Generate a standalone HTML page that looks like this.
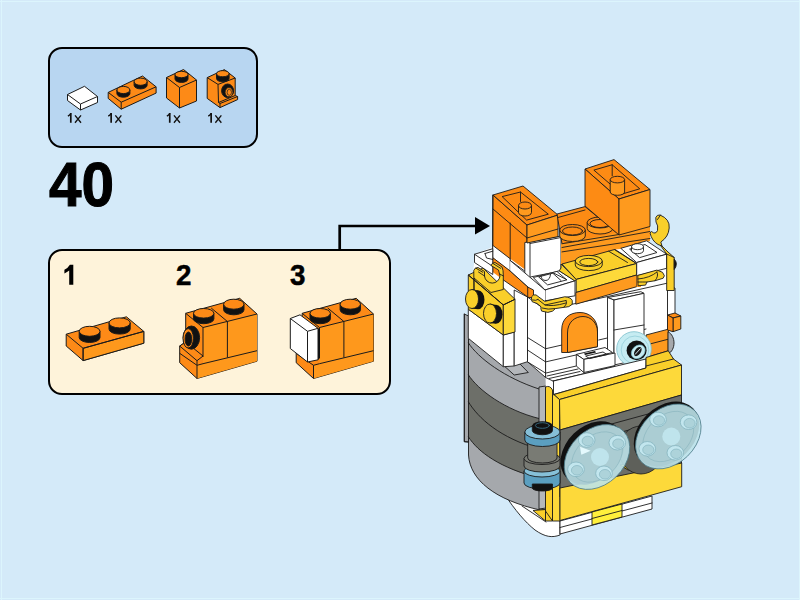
<!DOCTYPE html>
<html><head><meta charset="utf-8">
<style>
html,body{margin:0;padding:0;}
body{width:800px;height:600px;position:relative;overflow:hidden;background:#d4eaf9;font-family:"Liberation Sans",sans-serif;}
.t{position:absolute;color:#000;white-space:nowrap;line-height:1;}
#callout{position:absolute;left:47.5px;top:47px;width:210.5px;height:101px;box-sizing:border-box;border:2px solid #000;border-radius:14px;background:#b8d6f1;}
#steps{position:absolute;left:47.5px;top:249px;width:343px;height:146px;box-sizing:border-box;border:2px solid #000;border-radius:14px;background:#fef3da;}
.num{font-weight:bold;font-size:63.5px;transform:scaleX(0.92);transform-origin:0 0;-webkit-text-stroke:1.1px #000;}
.sn{font-weight:bold;font-size:29.5px;transform:scaleX(0.94);transform-origin:0 0;-webkit-text-stroke:0.5px #000;}
.qty{font-size:14px;}
svg{position:absolute;left:0;top:0;}
</style></head><body>
<div style="position:absolute;left:0;top:1px;width:800px;height:1px;background:#dcf5fd"></div>
<div style="position:absolute;left:1px;top:0;width:1px;height:600px;background:#dcf5fd"></div>
<div style="position:absolute;left:0;top:598px;width:800px;height:1px;background:#dcf5fd"></div>
<div style="position:absolute;left:799px;top:0;width:1px;height:600px;background:#dcf5fd"></div>
<div id="callout"></div>
<div id="steps"></div>
<div class="t num" style="left:49px;top:153px">40</div>
<div class="t sn" style="left:176px;top:260px">2</div>
<div class="t sn" style="left:290px;top:260px">3</div>
<svg width="800" height="600" viewBox="0 0 800 600">
<g stroke="#1b1b1b" stroke-width="1" stroke-linejoin="round">
<!-- callout: white tile -->
<path d="M67.5 94.5 L84.5 86.3 L97.5 96.5 L97.5 102.5 L80.5 110 L67.5 100.5Z" fill="#fff"/>
<path d="M67.5 94.5 L80.5 104 L97.5 96.5 M80.5 104 V110" fill="none"/>
<!-- callout: orange 1x2 plate -->
<path d="M108.2 92.4 L142.5 76 L156.1 86.8 L156.1 93.1 L121.2 109.2 L108.2 98.4Z" fill="#fd8a17"/>
<path d="M108.2 92.4 L121.2 102.2 L156.1 86.8 M121.2 102.2 V109.2" fill="none"/>
<path d="M116.9 90 V93.6 A6.5 3.6 0 0 0 129.9 93.6 V90Z" fill="#111"/>
<ellipse cx="123.4" cy="90" rx="6.5" ry="3.6" fill="#fd8a17"/>
<path d="M134.1 81.7 V85.3 A6.5 3.6 0 0 0 147.1 85.3 V81.7Z" fill="#111"/>
<ellipse cx="140.6" cy="81.7" rx="6.5" ry="3.6" fill="#fd8a17"/>
<!-- callout: orange 1x1 brick -->
<path d="M166.5 77.5 L183.5 69.5 L196.5 80 L196.5 101 L179.5 108 L166.5 98Z" fill="#fd8a17"/>
<path d="M166.5 77.5 L179.5 87.5 L196.5 80 M179.5 87.5 V108" fill="none"/>
<path d="M175 74.5 V79 A6.5 3.4 0 0 0 188 79 V74.5Z" fill="#111"/>
<ellipse cx="181.5" cy="74.5" rx="6.5" ry="3.2" fill="#fd8a17"/>
<!-- callout: headlight brick -->
<path d="M207.2 77.6 L224.4 69.6 L235.2 78 L235.2 95.5 L237.6 96.5 L237.6 99.6 L220 107.6 L207.2 98.4Z" fill="#fd8a17"/>
<path d="M207.2 77.6 L218 84.4 L235.2 78 M218 84.4 L218.5 102.5 L220 103.5 V107.6 M218.5 102.5 L235.2 95.5 M220 103.5 L237.6 96.5" fill="none"/>
<path d="M216.5 73.7 V78.5 A6.3 3.3 0 0 0 229.1 78.5 V73.7Z" fill="#111"/>
<ellipse cx="222.8" cy="73.7" rx="6.3" ry="3.1" fill="#fd8a17"/>
<ellipse cx="227.6" cy="90.8" rx="6" ry="6.8" fill="#111"/>
<ellipse cx="229" cy="92.2" rx="3.9" ry="4.6" fill="#fd8a17" stroke-width="0.8"/>
<ellipse cx="229.3" cy="92.3" rx="2.2" ry="3" fill="#fd8a17" stroke-width="0.7"/>
</g>
<g transform="translate(0 0)" stroke="#111" fill="none"><path d="M70.8 113 V122.75" stroke-width="1.7"/><path d="M67.9 116.2 Q69.8 115.2 70.9 113.3" stroke-width="1.4"/><path d="M75 115.4 L81 122.75 M81 115.4 L75 122.75" stroke-width="1.35"/></g>
<g transform="translate(40.35 0)" stroke="#111" fill="none"><path d="M70.8 113 V122.75" stroke-width="1.7"/><path d="M67.9 116.2 Q69.8 115.2 70.9 113.3" stroke-width="1.4"/><path d="M75 115.4 L81 122.75 M81 115.4 L75 122.75" stroke-width="1.35"/></g>
<g transform="translate(98.95 0)" stroke="#111" fill="none"><path d="M70.8 113 V122.75" stroke-width="1.7"/><path d="M67.9 116.2 Q69.8 115.2 70.9 113.3" stroke-width="1.4"/><path d="M75 115.4 L81 122.75 M81 115.4 L75 122.75" stroke-width="1.35"/></g>
<g transform="translate(140.35 0)" stroke="#111" fill="none"><path d="M70.8 113 V122.75" stroke-width="1.7"/><path d="M67.9 116.2 Q69.8 115.2 70.9 113.3" stroke-width="1.4"/><path d="M75 115.4 L81 122.75 M81 115.4 L75 122.75" stroke-width="1.35"/></g>
</svg>

<svg width="800" height="600" viewBox="0 0 800 600">
<path d="M69.2 264.75 H73.3 V284.75 H69.2 V270.6 Q67.2 272.3 64.4 273.4 V269.8 Q68 268 69.9 264.75Z" fill="#000"/>
<g stroke="#1b1b1b" stroke-width="1" stroke-linejoin="round">
<!-- step1 plate -->
<path d="M66.2 334.2 L126.4 316.8 L143.8 331.4 L143.8 343.2 L83.1 360.6 L66.2 346Z" fill="#fd8a17"/>
<path d="M83.1 348.3 L143.8 331.4 L143.8 343.2 L83.1 360.6Z" fill="#fe981c"/>
<path d="M66.2 334.2 L83.1 348.3 L143.8 331.4 M83.1 348.3 V360.6" fill="none"/>
<path d="M79.2 331.3 V337.5 A10.4 5 0 0 0 100 337.5 V331.3Z" fill="#111"/>
<ellipse cx="89.6" cy="331.3" rx="10.4" ry="5" fill="#fd8a17"/>
<path d="M109 322.9 V329.1 A10.6 5 0 0 0 130.2 329.1 V322.9Z" fill="#111"/>
<ellipse cx="119.6" cy="322.9" rx="10.6" ry="5" fill="#fd8a17"/>
</g>
<g id="s2" stroke="#1b1b1b" stroke-width="1" stroke-linejoin="round">
<!-- plate -->
<path d="M179.7 346 L185.7 342 L185.7 313.3 L239.7 298.3 L257 314 L257 361.2 L197 378.5 L179.7 362.7Z" fill="#fd8a17"/>
<!-- plate lines -->
<path d="M203 327.5 L257 314 L257 361.2 L197 378.5 L197 365.3 L203 363.7Z" fill="#fe981c" stroke="none"/>
<path d="M179.7 353.3 L197 365.3 L203 363.7 L257 350.7 M197 365.3 V378.5" fill="none"/>
<!-- ledge -->
<path d="M179.7 346 L185.7 342 L203 356 L197 360.7Z" fill="#fd8a17"/>
<path d="M197 360.7 V365.3" fill="none"/>
<!-- brick edges -->
<path d="M185.7 313.3 L203 327.5 L257 314 M203 327.5 V357 M227.4 321.5 V357.5 M211.2 308 L227.4 321.5" fill="none"/>
<!-- headlight -->
<ellipse cx="191.4" cy="337.6" rx="8.2" ry="11.6" fill="#111"/>
<ellipse cx="188.2" cy="338.3" rx="5.2" ry="9.7" fill="#fd8a17"/>
<ellipse cx="188.4" cy="339" rx="3.3" ry="7" fill="#111"/>
<!-- studs -->
<path d="M193.5 313.3 V318.9 A10.2 4.8 0 0 0 213.9 318.9 V313.3Z" fill="#111"/>
<ellipse cx="203.7" cy="313.3" rx="10.2" ry="4.8" fill="#fd8a17"/>
<path d="M223.6 304.2 V309.8 A10.2 5 0 0 0 244 309.8 V304.2Z" fill="#111"/>
<ellipse cx="233.8" cy="304.2" rx="10.2" ry="5" fill="#fd8a17"/>
</g>
<g transform="translate(116.5 0)" stroke="#1b1b1b" stroke-width="1" stroke-linejoin="round">
<path d="M179.7 346 L185.7 342 L185.7 313.3 L239.7 298.3 L257 314 L257 361.2 L197 378.5 L179.7 362.7Z" fill="#fd8a17"/>
<path d="M203 327.5 L257 314 L257 361.2 L197 378.5 L197 365.3 L203 363.7Z" fill="#fe981c" stroke="none"/>
<path d="M179.7 353.3 L197 365.3 L203 363.7 L257 350.7 M197 365.3 V378.5" fill="none"/>
<path d="M185.7 313.3 L203 327.5 L257 314 M203 327.5 V357 M227.4 321.5 V357.5 M211.2 308 L227.4 321.5" fill="none"/>
<path d="M193.5 313.3 V318.9 A10.2 4.8 0 0 0 213.9 318.9 V313.3Z" fill="#111"/>
<ellipse cx="203.7" cy="313.3" rx="10.2" ry="4.8" fill="#fd8a17"/>
<path d="M223.6 304.2 V309.8 A10.2 5 0 0 0 244 309.8 V304.2Z" fill="#111"/>
<ellipse cx="233.8" cy="304.2" rx="10.2" ry="5" fill="#fd8a17"/>
</g>
<g stroke="#1b1b1b" stroke-width="1" stroke-linejoin="round">
<!-- white tile step3 -->
<path d="M318 328.3 L320 329 L320 358 L318 360Z" fill="#111" stroke="none"/>
<path d="M290.3 318.5 L300 314.8 L318 328.3 L318 359.8 L307.5 362 L290.3 348.5Z" fill="#fff"/>
<path d="M290.3 318.5 L307.5 331.3 L318 328.3 M307.5 331.3 V362" fill="none"/>
</g>
</svg>

<svg width="800" height="600" viewBox="0 0 800 600">
<defs><style>
.o{fill:#fd8b14}.of{fill:#fe9a1e}.w{fill:#fff}.wg{fill:#eeeeee}.y{fill:#f9cf2a}.yf{fill:#fdd93a}.yl{fill:#fff03c}.g1{fill:#a5a8ac}.g1b{fill:#b4b7bb}.g2{fill:#6d6f69}.g2b{fill:#797b74}.tb{fill:#c4e6ee}.tbc{fill:#86c0d8}.tbc2{fill:#5b9fc0}.tbd{fill:#6aaac6}.bk{fill:#111}
.e{fill:none;stroke:#1b1b1b;stroke-width:0.9;stroke-linejoin:round;stroke-linecap:round}
.s{stroke:#1b1b1b;stroke-width:0.9;stroke-linejoin:round}
</style></defs>
<path class="g1 s" d="M464.3 314 L468.5 316 L468.5 442 L464.3 441.7Z" />
<path class="w s" d="M505 495 C515 510 525 522 535 530 C545 537 552 538 560 535 L560 521 L546 510 L540 509Z" />
<path class="e" d="M522 506 L546 522 M540 509 L560 521" />
<path class="g1" d="M468.5 330 L546 370 L546 508 L540 510 C495 500 470 480 468.5 455Z" />
<path class="g2" d="M468.5 375 C478 390 505 410 539 418.5 L546 418 L546 479 L539 478 C500 468 478 452 468.5 437Z" />
<path class="e" d="M468.5 343 C478 358 505 378 539 389" />
<path class="e" d="M468.5 375 C478 390 505 410 539 418.5" />
<path class="e" d="M468.5 402 C478 418 500 438 539 449" />
<path class="e" d="M468.5 437 C478 452 500 468 539 478" />
<path class="e" d="M468.5 338 V455 C470 480 495 500 540 510" />
<path class="g1b s" d="M539 387 L546 386 L546 508 L539 509Z" />
<path class="e" d="M464.3 314 V441.7 L468.5 442" />
<path class="y s" d="M533 510.5 L545.5 509.5 L545.5 521 Z" />
<path class="y s" d="M545.5 509.5 L552.5 515 L552.5 521 L545.5 521Z" />
<path class="g1b s" d="M505 366.7 L520 364 L528.3 372.5 L514.2 375Z" />
<path class="w" d="M468.3 309 L475.3 254 L493 247 L527 241 L561 250 L640 240 L668 254 L675 290 L675 318 L668 330 L668 365 L553 394 L545.8 388 L545.6 377.5 L527.5 361.7 L514.2 366 L503.3 366.7 L468.3 338.3Z" />
<path class="w s" d="M468.3 309.2 L503.3 335 L503.3 366.7 L468.3 338.3Z" />
<path class="w s" d="M503.3 335 L514.2 332 L514.2 366 L503.3 366.7Z" />
<path class="w s" d="M514.2 290 L527.5 297 L527.5 361.7 L514.2 366Z" />
<path class="w s" d="M527.5 297 L545.6 310 L545.6 377.5 L527.5 361.7Z" />
<path class="e" d="M527.5 337.5 L545.6 348.75 M527.5 350 L545.6 361.9 M527.5 361.9 L545.6 373.1" />
<path class="w s" d="M545.6 310 L610 296 L668 283 L668 330 L646 357.5 L646 367 L553 381 L545.6 377.5Z" />
<path class="e" d="M545.6 348.75 L562 345 M545.6 361.9 L576 355 M545.6 373.1 L576.3 366 M598.7 340 L646 329" />
<path class="e" d="M553 381 L646 359" />
<path class="e" d="M547 376 L578 369 M549 378.5 L580 371.5" />
<path class="o s" d="M561.7 352.5 L561.7 330 C561.7 318 570 312.5 580 312.5 C590 312.5 597.5 320 597.5 330 L597.5 346.7 L567.5 352.5Z" />
<path class="of s" d="M567.5 352.5 L567.5 333 C567.5 322 575 316.5 583 316.5 C591 316.5 597.5 323 597.5 332 L597.5 346.7Z" />
<path class="w s" d="M607.5 297.5 L640.8 291.7 L644 293.3 L614 300Z" />
<path class="w s" d="M607.5 297.5 L614 300 L614 365 L607.5 362Z" />
<path class="w s" d="M614 300 L644 293.3 L644 366 L614 372Z" />
<path class="e" d="M614 330 L644 325" />
<path class="w s" d="M614 365 L646 358 L646 370 L614 376.7Z" />
<path class="w s" d="M576.3 354.4 L605 347.5 L612.5 352.5 L583.8 359.4Z" />
<path class="w s" d="M583.8 359.4 L615 353 L615 365.6 L583.8 372.5Z" />
<path class="w s" d="M576.3 354.4 L583.8 359.4 L583.8 372.5 L576.3 366Z" />
<path class="bk" d="M584 353.5 L595 351 L596 352.5 L585 355Z" />
<path class="e" d="M586 356 L603 352 L607 354.5 L590 358.5Z" />
<path class="of s" d="M646 335 L668.3 329.2 L668.3 350.8 L646 357.5Z" />
<path class="e" d="M646 345 L668.3 339.2" />
<path class="w s" d="M667.5 286.7 L675 288 L675 318 L667.5 316Z" />
<path class="o s" d="M667.5 315 L675 313 L680.8 316 L673 318Z" />
<path class="of s" d="M673 318 L680.8 316 L680.8 329 L673 331.7Z" />
<path class="o s" d="M667.5 315 L673 318 L673 331.7 L667.5 330Z" />
<path class="g1 s" d="M668 331.7 C676 336 676 350 668 354Z" />
<circle cx="634" cy="349" r="17.3" fill="#c6ecf2" stroke="#7dbfcc" stroke-width="0.8"/>
<circle cx="635" cy="349.8" r="13.8" fill="none" stroke="#8ccad6" stroke-width="0.7"/>
<ellipse cx="636.6" cy="350.4" rx="10" ry="9.8" fill="#111"/>
<ellipse cx="638.2" cy="351.8" rx="7.6" ry="6" transform="rotate(-45 638.2 351.8)" fill="#c6ecf2" stroke="#7dbfcc" stroke-width="0.7"/>
<ellipse cx="637.8" cy="351.6" rx="5.2" ry="3" transform="rotate(-55 637.8 351.6)" fill="#1a1a1a"/>
<path d="M635 354.5 L640.5 348.5" stroke="#e8fbff" stroke-width="0.9"/>
<path class="o s" d="M493 195 L527 225 L527 287.3 L510.2 271 L492.7 257.6Z" />
<path class="w" d="M492.7 245.3 L510.2 258.75 L526 270.2 L526 284 L510.2 271 L492.7 257.6Z" />
<path class="o" d="M492.7 257.6 L510.2 271 L528.3 287.3 L528.3 297.3 L502 279 L492.7 272Z" />
<path class="e" d="M492.7 195 V272 M510.2 223 V271 M492.7 245.3 L510.2 258.75 M510.2 260.5 L526 272 M492.7 257.6 L510.2 271 L528.3 287.3 M502 279 L528.3 297.3 M493 209 L527 238" />
<path class="w s" d="M474.5 254.25 L492.75 248.7 L492.75 274.5 L474.5 262.5Z" />
<path class="e" d="M474.5 254.25 L492.75 266.4 M485 253.5 L492.75 251.2 M485 253.5 L486.5 258 L492.75 259.5" />
<path class="y s" d="M468.3 275 L483 268 L515 299.3 L503.3 305Z" />
<path class="y s" d="M468.3 275 L503.3 305 L503.3 335 L468.3 309.2Z" />
<path class="yf s" d="M503.3 305 L515 299.3 L515 332 L503.3 335Z" />
<path class="bk s" d="M472 289.5 L478 291 L478 308.5 L472 308.5Z"/>
<ellipse class="bk" cx="478" cy="299.8" rx="6.5" ry="9.5"/>
<ellipse class="y s" cx="472" cy="299" rx="6.5" ry="9.5"/>
<path class="bk s" d="M490 304.0 L496 305.5 L496 323.0 L490 323.0Z"/>
<ellipse class="bk" cx="496" cy="314.3" rx="6.5" ry="9.5"/>
<ellipse class="y s" cx="490" cy="313.5" rx="6.5" ry="9.5"/>
<path class="y s" d="M474 290 L473.75 270.5 Q474.5 267.5 478 267.5 L484.5 271.5 L484.5 276 A7.8 8 0 0 0 500 276 L498.5 270 L491 265.5 Q492 262.5 495 262.5 L502 267 Q503.5 270 503.3 276 L503.3 289.5 L491 292.5 L474 278Z" />
<path class="e" d="M468.3 275 L503.3 305 L515 299.3" />
<path class="e" d="M476 268.2 L482.8 272.3 M493 263.5 L500.6 268.3 M484.5 276 L478.5 272 M499.8 274 L503.3 276" />
<path class="w s" d="M524.8 242.5 L558 236.6 L561 236 L561 271 L531.2 276.8 L524.8 280Z" />
<path class="e" d="M530 243.5 L530 276.8 M530 243.5 L561 237.5" />
<path class="o s" d="M493 195 L523 186 L558 215 L527 225Z" />
<path class="e" d="M502.5 196.5 L520.5 192 L548.3 214.2 L527 220Z" />
<path class="e" d="M520.5 192 V201.5" />
<path class="of s" d="M518.5 205.5 V212.5 A6.5 3.5 0 0 0 531.5 212.5 V205.5Z"/>
<ellipse class="o s" cx="525" cy="205.5" rx="6.5" ry="3.5"/>
<path class="of s" d="M527 225 L558 215 L558 236.6 L527 243Z" />
<path class="e" d="M527 238 L558 229" />
<path class="o s" d="M557 214 L585 206.6 L619 234.5 L562 243.75Z" />
<path class="e" d="M558 217.5 L585 210" />
<path class="of" d="M561 243.75 L650 226 L650 241 L622.5 248.75 L615 249.4 L566.5 265 L561 264Z" />
<path class="e" d="M562 243.75 L619 234.5 M562 247.5 L650 231.5 M562 251.9 L650 238.5" />
<path class="of s" d="M559.7 230 V236 A12.8 5.5 0 0 0 585.3 236 V230Z"/>
<ellipse class="o s" cx="572.5" cy="230" rx="12.8" ry="5.5"/>
<ellipse class="e" cx="572.5" cy="231" rx="10" ry="4"/>
<path class="of s" d="M587.2 222.5 V228.5 A12.8 5.5 0 0 0 612.8 228.5 V222.5Z"/>
<ellipse class="o s" cx="600" cy="222.5" rx="12.8" ry="5.5"/>
<ellipse class="e" cx="600" cy="223.5" rx="10" ry="4"/>
<path class="o s" d="M585 169 L614 159.6 L650 189.5 L619 199Z" />
<path class="o s" d="M585 169 L619 199 L619 235 L585 206Z" />
<path class="of s" d="M619 199 L650 189.5 L650 226.5 L619 235Z" />
<path class="e" d="M594.25 170 L612.2 164.75 L639.75 188.8 L622.25 194Z M612.2 164.75 V175.7" />
<path class="of s" d="M610.1999999999999 179.6 V192.0 A7.2 3.3 0 0 0 624.6 192.0 V179.6Z"/>
<ellipse class="o s" cx="617.4" cy="179.6" rx="7.2" ry="3.3"/>
<path class="w s" d="M533.3 277.5 L559.2 270.8 L575 280.8 L545 290Z" />
<path class="w s" d="M545 290 L575 280.8 L575 295.8 L545 300.8Z" />
<path class="e" d="M539 276.8 L553.5 273 L567 279.8 L548 284.8Z M541 276.3 Q541.5 280.5 546 280.5 Q550 280 550.5 274.3 M552.8 273.2 L561 280.5 M557.5 272 L566 279.2" />
<path class="w" d="M510.2 260.5 L545 290 L545 300.8 L528.3 287.3 L510.2 271Z" />
<path class="e" d="M510.2 260.5 L545 290 M510.2 271 L528.3 287.3" />
<path class="y s" d="M561 264 L576.2 279.4 L575 281 L559.2 270.8 L561 268Z" />
<path class="y s" d="M562 264 L615 249.4 L636.7 263.5 L576.2 279.4Z" />
<path class="yf s" d="M576.2 279.4 L636.7 263.5 L636.7 275 L576.2 292.5Z" />
<path class="of s" d="M575.8 292.5 L636.7 275 L636.7 286.7 L575.8 304.2Z" />
<path class="y s" d="M575.25 261 V265 A13.5 5.6 0 0 0 602.25 265 V261Z"/>
<ellipse class="y s" cx="588.75" cy="261" rx="13.5" ry="5.6"/>
<ellipse class="e" cx="588.75" cy="262" rx="9" ry="3.6"/>
<path class="e" d="M608.75 251.25 L627.5 262.5 M615 250 L635 262.5" />
<path class="o s" d="M527.7 287 L533.5 290 L533.5 297.8 L527.7 297.3Z" />
<path class="y s" d="M531.6 296.75 Q532.9 294.25 536 294.9 L544.75 301.4 L564.75 296.75 Q571 297.4 572.25 300.5 L572.25 304.25 Q569.75 307.4 563.5 307.4 L555.4 308.6 Q553.5 311.75 547.9 312.4 L541.6 311.1 Q540.4 308.6 541 306.75 L537.25 303.6 L532.25 301.75 Q531 299.9 531.6 296.75Z" />
<path class="e" d="M532.5 300 Q536 301 538 299.5 M538 299.5 L545 305 L566 300.5 M545 305 Q552 307 566 303 M542 308 Q548 310 555 308.6 M566 300.5 Q568 304 563.5 307.4" />
<path class="w s" d="M620.8 248.3 L646.7 240.8 L666.7 254.2 L636.7 262.5Z" />
<path class="w s" d="M636.7 262.5 L666.7 254.2 L666.7 268.3 L636.7 275.8Z" />
<path class="e" d="M630 249 L645 244.5 L657 252.5 L640 257.5Z" />
<path class="w s" d="M631.5 246.7 V250.7 A6 3 0 0 0 643.5 250.7 V246.7Z"/>
<ellipse class="w s" cx="637.5" cy="246.7" rx="6" ry="3"/>
<path class="of" d="M636.7 275.8 L641 274.7 L641 287 L636.7 287Z" />
<path class="y s" d="M637.8 275.4 L656.9 270.1 L662.5 272.3 L664.4 275.75 L663.1 278.25 L655 280.75 L646.9 282 L645.6 285.1 L638.1 285.75Z" />
<path class="e" d="M638 279 Q650 278 657 272 M657 272 Q659 276 655 280.75 M638 282 Q643 282 646.9 282" />
<path class="y s" d="M658 242 L668 252 L674.2 257.5 L674.2 290.5 L666.7 290.5 L666.7 254Z" />
<path class="bk s" d="M674.2 259 Q678.5 264 674.2 269.5Z" />
<path class="y s" d="M655.8 217.5 Q657 214.5 660 215 Q670 219 669.2 228 Q668.5 237 660.8 242 L662 246 L658 244.5 Q652 241 650 233 L651.5 231.5 Q655.5 235 657.5 230.5 Q658.5 225.5 656 222Z" />
<path class="e" d="M660.5 215 L657.5 219.5 M666.7 254 L674.2 257.5" />
<path class="w s" d="M553.5 381 L646 359 L646 368 L553.5 394.5Z" />
<path class="y s" d="M545.5 387 Q550 385 552.5 390 L552.5 521 L545.5 511Z" />
<path class="yf s" d="M552.5 395 L554 394.5 L559.5 399.5 L560 521 L552.5 521Z" />
<path class="y s" d="M554 394.5 L646 368 L646 357.5 L668.3 350.8 L673.5 359 L681.5 365 L559.5 399.5Z" />
<path class="e" d="M646 366 L673.5 359" />
<path class="yf s" d="M559.5 399.5 L681.5 365 L681.5 395 L560 430Z" />
<path class="g2 s" d="M560 430 L681.5 395 L681.5 463 L560 497Z" />
<path class="e" d="M575 434 L681 405 M570 446 L681 416 M565 458 L681 426 M600 422 V435" />
<path class="yf s" d="M560 488 L681.7 463 L681.7 486.7 L560 520.5Z" />
<path class="y s" d="M620 465 L640 461 L648 466 L628 470Z" />
<path class="w s" d="M560 521 L652 496 L652 509 L560 534Z" />
<path class="e" d="M560 527.5 L652 503" />
<path class="yl s" d="M592 512 L622 504 L622 517 L592 525Z" />
<path class="e" d="M592 518.5 L622 510.5" />
<ellipse cx="641" cy="450" rx="22" ry="24" fill="#5e605a" stroke="#1b1b1b" stroke-width="0.8"/>
<ellipse class="bk" cx="592.5" cy="453" rx="36" ry="27" transform="rotate(-44 592.5 453)"/>
<ellipse class="bk" cx="666.5" cy="434" rx="37" ry="27.5" transform="rotate(-44 666.5 434)"/>
<ellipse cx="597" cy="457" rx="37" ry="27.5" transform="rotate(-44 597 457)" fill="#bde2e9" fill-opacity="0.9" stroke="#4d7d8a" stroke-width="0.8"/>
<ellipse cx="597" cy="457" rx="29" ry="21" transform="rotate(-44 597 457)" fill="none" stroke="#88b3bd" stroke-width="0.6"/>
<circle cx="600" cy="457" r="9" fill="#bfe4ec"/>
<ellipse cx="586.7" cy="440" rx="8.3" ry="7.3" fill="#c2e6ee" stroke="#7fb0bc" stroke-width="0.7"/>
<ellipse cx="587.7" cy="441" rx="5.6" ry="4.8" fill="#add3da" stroke="#7fb0bc" stroke-width="0.6"/>
<ellipse cx="617.3" cy="442.7" rx="8.3" ry="7.3" fill="#c2e6ee" stroke="#7fb0bc" stroke-width="0.7"/>
<ellipse cx="618.3" cy="443.7" rx="5.6" ry="4.8" fill="#add3da" stroke="#7fb0bc" stroke-width="0.6"/>
<ellipse cx="576" cy="469.3" rx="8.3" ry="7.3" fill="#c2e6ee" stroke="#7fb0bc" stroke-width="0.7"/>
<ellipse cx="577" cy="470.3" rx="5.6" ry="4.8" fill="#add3da" stroke="#7fb0bc" stroke-width="0.6"/>
<ellipse cx="604" cy="473.3" rx="8.3" ry="7.3" fill="#c2e6ee" stroke="#7fb0bc" stroke-width="0.7"/>
<ellipse cx="605" cy="474.3" rx="5.6" ry="4.8" fill="#add3da" stroke="#7fb0bc" stroke-width="0.6"/>
<ellipse cx="668.3" cy="436.5" rx="37" ry="27.5" transform="rotate(-44 668.3 436.5)" fill="#bde2e9" fill-opacity="0.9" stroke="#4d7d8a" stroke-width="0.8"/>
<ellipse cx="668.3" cy="436.5" rx="29" ry="21" transform="rotate(-44 668.3 436.5)" fill="none" stroke="#88b3bd" stroke-width="0.6"/>
<circle cx="671.3" cy="436.5" r="9" fill="#bfe4ec"/>
<ellipse cx="658.0" cy="419.5" rx="8.3" ry="7.3" fill="#c2e6ee" stroke="#7fb0bc" stroke-width="0.7"/>
<ellipse cx="659.0" cy="420.5" rx="5.6" ry="4.8" fill="#add3da" stroke="#7fb0bc" stroke-width="0.6"/>
<ellipse cx="688.5999999999999" cy="422.2" rx="8.3" ry="7.3" fill="#c2e6ee" stroke="#7fb0bc" stroke-width="0.7"/>
<ellipse cx="689.5999999999999" cy="423.2" rx="5.6" ry="4.8" fill="#add3da" stroke="#7fb0bc" stroke-width="0.6"/>
<ellipse cx="647.3" cy="448.8" rx="8.3" ry="7.3" fill="#c2e6ee" stroke="#7fb0bc" stroke-width="0.7"/>
<ellipse cx="648.3" cy="449.8" rx="5.6" ry="4.8" fill="#add3da" stroke="#7fb0bc" stroke-width="0.6"/>
<ellipse cx="675.3" cy="452.8" rx="8.3" ry="7.3" fill="#c2e6ee" stroke="#7fb0bc" stroke-width="0.7"/>
<ellipse cx="676.3" cy="453.8" rx="5.6" ry="4.8" fill="#add3da" stroke="#7fb0bc" stroke-width="0.6"/>
<path d="M580 446.7 L590.7 450.7 L581.3 454.7Z" fill="#e4f9fd"/>
<path class="tbc2 s" d="M524 471 H560 V483 A18 6 0 0 1 524 483Z" />
<path class="bk s" d="M532.3 484 H552.5 V488 A10 3 0 0 1 532.3 488Z" />
<ellipse class="tbc s" cx="542" cy="471" rx="18" ry="6"/>
<path class="g2b s" d="M524 458.5 H560 V466 A18 6 0 0 1 524 466Z" />
<ellipse class="g2b s" cx="542" cy="458.5" rx="18" ry="6"/>
<path class="g2b s" d="M527.7 440 H557 V458 A14.6 5 0 0 1 527.7 458Z" />
<path class="tbc2 s" d="M524.8 432 H560 V440 A17.6 6.5 0 0 1 524.8 440Z" />
<ellipse class="tbc s" cx="542.4" cy="432" rx="17.6" ry="7"/>
<path class="bk s" d="M532.3 425.5 V430.5 A10 4.2 0 0 0 552.5 430.5 V425.5Z" />
<ellipse class="bk" cx="542.4" cy="425.5" rx="10" ry="4.2"/>
<ellipse class="e" cx="542.4" cy="425.5" rx="7" ry="2.8" style="stroke:#3a6d85"/>
</svg>
<svg width="800" height="600" viewBox="0 0 800 600">
<path d="M339.7 249 V226 H476" stroke="#000" stroke-width="2.7" fill="none"/>
<path d="M475 217 L490 226 L475 234.5Z" fill="#000"/>
</svg>
</body></html>
